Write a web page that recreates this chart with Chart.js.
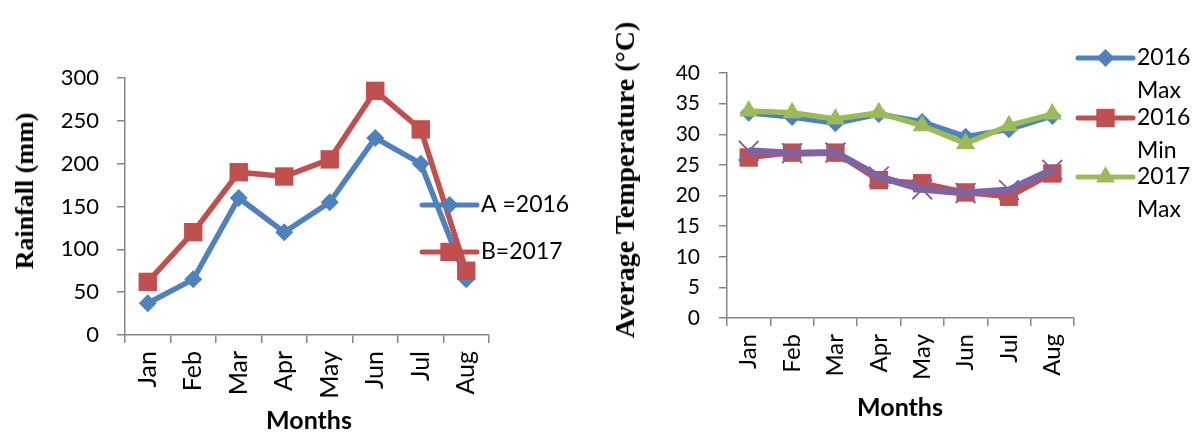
<!DOCTYPE html>
<html lang="en">
<head>
  <meta charset="UTF-8" />
  <title>Rainfall and temperature</title>
  <script src="https://cdn.jsdelivr.net/npm/chart.js"></script>
  <style>
    body { margin: 0; background: #fff; }
    #wrap { position: relative; width: 1193px; height: 432px; overflow: hidden; }
    canvas { position: absolute; top: 0; }
    #rainChart { left: 0; }
    #tempChart { left: 600px; }
    .ytitle {
      position: absolute; white-space: nowrap; color: #000;
      font-family: "Liberation Serif", serif; font-weight: bold;
      transform: translate(-50%, -50%) rotate(-90deg);
    }
    .xtitle {
      position: absolute; white-space: nowrap; color: #000;
      font-family: Lato, sans-serif; font-weight: bold; font-size: 25px;
      transform: translate(-50%, -50%);
    }
  </style>
</head>
<body>
  <div id="wrap">
    <canvas id="rainChart" width="600" height="432"></canvas>
    <canvas id="tempChart" width="593" height="432"></canvas>
    <div class="ytitle" style="left:25px; top:191px; font-size:26px;">Rainfall (mm)</div>
    <div class="xtitle" style="left:309px; top:419px;">Months</div>
    <div class="ytitle" style="left:625px; top:180px; font-size:28px;">Average Temperature (°C)</div>
    <div class="xtitle" style="left:900px; top:406px;">Months</div>
  </div>

  <script>
    // data
    const months = ['Jan', 'Feb', 'Mar', 'Apr', 'May', 'Jun', 'Jul', 'Aug'];
    const rain2016 = [37, 65, 160, 120, 155, 230, 200, 65];
    const rain2017 = [62, 120, 190, 185, 205, 285, 240, 75];
    const max2016 = [33.5, 32.8, 31.8, 33.3, 32.0, 29.6, 30.8, 33.0];
    const min2016 = [26.2, 27.0, 27.0, 22.5, 22.0, 20.5, 19.8, 23.6];
    const max2017 = [33.8, 33.5, 32.5, 33.5, 31.4, 28.5, 31.4, 33.3];
    const min2017 = [27.3, 26.9, 27.0, 23.1, 21.0, 20.4, 20.9, 24.2];

    const blue = '#4F81BD', red = '#C0504D', green = '#9BBB59', purple = '#8064A2';
    const axisGray = '#868686';

    // Excel-style legend: line + marker + (wrapped) text, drawn over the plot
    const lineLegend = {
      id: 'lineLegend',
      afterDatasetsDraw(chart, args, opts) {
        const ctx = chart.ctx;
        opts.items.forEach(it => {
          const ds = chart.data.datasets[it.index];
          ctx.save();
          ctx.strokeStyle = ds.borderColor;
          ctx.lineWidth = 5;
          ctx.lineCap = 'round';
          ctx.beginPath();
          ctx.moveTo(opts.x, it.y);
          ctx.lineTo(opts.x + opts.w, it.y);
          ctx.stroke();
          ctx.fillStyle = ds.pointBackgroundColor;
          ctx.strokeStyle = ds.pointBorderColor;
          ctx.lineWidth = ds.pointBorderWidth;
          Chart.helpers.drawPoint(ctx, {
            pointStyle: ds.pointStyle, radius: ds.pointRadius,
            borderWidth: ds.pointBorderWidth, rotation: 0
          }, opts.x + opts.w / 2, it.y);
          ctx.fillStyle = '#000';
          ctx.font = opts.font;
          ctx.textBaseline = 'middle';
          it.text.forEach((t, k) => ctx.fillText(t, opts.x + opts.w + 4, it.y + k * opts.lineGap));
          ctx.restore();
        });
      }
    };

    function axisX(height, size, pad) {
      return {
        offset: true,
        grid: { offset: true, drawOnChartArea: false, tickLength: 8, color: axisGray, lineWidth: 1.5 },
        border: { color: axisGray, width: 1.5 },
        ticks: { maxRotation: 90, minRotation: 90, autoSkip: false, padding: pad, color: '#000',
                 font: { family: 'Lato', size: size } },
        afterFit: s => { s.height = height; }
      };
    }
    function axisY(width, min, max, step, size, pad) {
      return {
        min: min, max: max,
        grid: { drawOnChartArea: false, tickLength: 8, color: axisGray, lineWidth: 1.5 },
        border: { color: axisGray, width: 1.5 },
        ticks: { stepSize: step, padding: pad, color: '#000', font: { family: 'Lato', size: size } },
        afterFit: s => { s.width = width; }
      };
    }
    function series(label, data, color, style, radius, width, order) {
      return {
        label: label, data: data, order: order,
        borderColor: color, backgroundColor: color, borderWidth: width, tension: 0,
        pointStyle: style, pointRadius: radius, pointHoverRadius: radius,
        pointBackgroundColor: color, pointBorderColor: color,
        pointBorderWidth: style === 'crossRot' ? 2 : 0
      };
    }

    new Chart(document.getElementById('rainChart'), {
      type: 'line',
      data: {
        labels: months,
        datasets: [
          series('A =2016', rain2016, blue, 'rectRot', 9, 5.5, 2),
          series('B=2017', rain2017, red, 'rect', 13, 5.5, 1)
        ]
      },
      options: {
        responsive: false, animation: false, devicePixelRatio: 1,
        layout: { padding: { left: 0, top: 78, right: 111, bottom: 0 } },
        scales: {
          x: axisX(97, 25, 8),
          y: axisY(125, 0, 300, 50, 22, 18)
        },
        plugins: {
          legend: { display: false },
          tooltip: { enabled: false },
          lineLegend: {
            x: 422, w: 55, lineGap: 33, font: '23px Lato',
            items: [
              { index: 0, y: 205, text: ['A =2016'] },
              { index: 1, y: 252, text: ['B=2017'] }
            ]
          }
        }
      },
      plugins: [lineLegend]
    });

    new Chart(document.getElementById('tempChart'), {
      type: 'line',
      data: {
        labels: months,
        datasets: [
          series('2016 Max', max2016, blue, 'rectRot', 9, 5.5, 4),
          series('2016 Min', min2016, red, 'rect', 13, 5.5, 3),
          series('2017 Max', max2017, green, 'triangle', 11, 5.5, 2),
          series('2017 Min', min2017, purple, 'crossRot', 14, 7, 1)
        ]
      },
      options: {
        responsive: false, animation: false, devicePixelRatio: 1,
        layout: { padding: { left: 0, top: 73, right: 119, bottom: 0 } },
        scales: {
          x: axisX(114, 24, 8),
          y: axisY(127, 0, 40, 5, 21, 19)
        },
        plugins: {
          legend: { display: false },
          tooltip: { enabled: false },
          lineLegend: {
            x: 478, w: 55, lineGap: 33, font: '23px Lato',
            items: [
              { index: 0, y: 58, text: ['2016', 'Max'] },
              { index: 1, y: 118, text: ['2016', 'Min'] },
              { index: 2, y: 177, text: ['2017', 'Max'] }
            ]
          }
        }
      },
      plugins: [lineLegend]
    });
  </script>
</body>
</html>
